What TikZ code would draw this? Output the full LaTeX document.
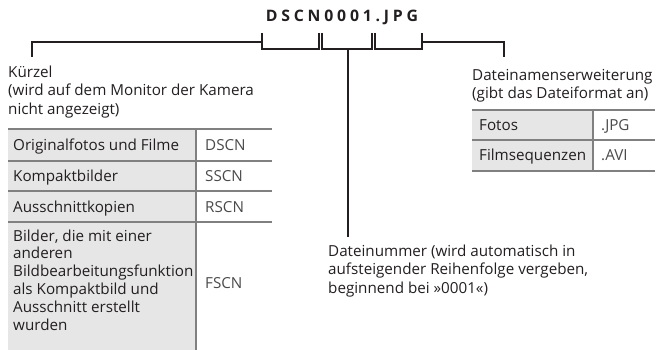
\documentclass[tikz,border=0pt]{standalone}
\usepackage{fontspec}
\setmainfont{Open Sans}
\definecolor{rulegray}{HTML}{808080}
\definecolor{cellgray}{HTML}{E6E6E6}
\definecolor{ink}{HTML}{231F20}
\definecolor{codeink}{HTML}{4A4A4A}
\begin{document}
\begin{tikzpicture}[x=1pt,y=-1pt,
  txt/.style={inner sep=0pt, anchor=base west, align=left, text=ink,
    font=\fontsize{15.2}{18.3}\selectfont},
  celltxt/.style={txt, font=\fontsize{15.2}{17.8}\selectfont},
  codetxt/.style={txt, text=codeink},
  br/.style={line width=2pt, draw=ink},
  tabrule/.style={line width=2.7pt, draw=rulegray},
  tabdiv/.style={line width=2.5pt, draw=rulegray}]
\useasboundingbox (0,0) rectangle (658,350);

% title
\node[inner sep=0pt, text=ink, font=\fontsize{15.8}{18}\selectfont\bfseries\addfontfeature{LetterSpace=24}] (title) at (342,17.5) {DSCN0001.JPG};

% bracket coordinates
\coordinate (kst) at (32,57);
\coordinate (kcorner) at (32,42);
\coordinate (b1a) at (262,33); \coordinate (b1b) at (262,49);
\coordinate (b1c) at (319,49); \coordinate (b1d) at (319,33);
\coordinate (b1m) at (262,42);
\coordinate (b2a) at (322,33); \coordinate (b2b) at (322,49);
\coordinate (b2c) at (372,49); \coordinate (b2d) at (372,33);
\coordinate (b2m) at (348,49);
\coordinate (nst) at (348,237);
\coordinate (b3a) at (375,33); \coordinate (b3b) at (375,49);
\coordinate (b3c) at (422,49); \coordinate (b3d) at (422,33);
\coordinate (b3m) at (422,42);
\coordinate (ecorner) at (504,42);
\coordinate (est) at (504,57);

\draw[br] (kst) -- (kcorner) -- (b1m);
\draw[br] (b1a) -- (b1b) -- (b1c) -- (b1d);
\draw[br] (b2a) -- (b2b) -- (b2c) -- (b2d);
\draw[br] (b2m) -- (nst);
\draw[br] (b3a) -- (b3b) -- (b3c) -- (b3d);
\draw[br] (b3m) -- (ecorner) -- (est);

% labels (base anchor = baseline of last line)
\node[txt] (kurzel) at (8,114) {Kürzel\\(wird auf dem Monitor der Kamera\\nicht angezeigt)};
\node[txt] (ext) at (472,99) {Dateinamenserweiterung\\(gibt das Dateiformat an)};
\node[txt] (num) at (328,293) {Dateinummer (wird automatisch in\\aufsteigender Reihenfolge vergeben,\\beginnend bei »0001«)};

% left table
\fill[cellgray] (8,129) rectangle (196,350);
\draw[tabdiv] (196,129) -- (196,350);
\draw[tabrule] (8,129) -- (272,129);
\draw[tabrule] (8,161) -- (272,161);
\draw[tabrule] (8,191) -- (272,191);
\draw[tabrule] (8,222) -- (272,222);
\node[celltxt] (l1) at (13,150.5) {Originalfotos und Filme};
\node[codetxt] (c1) at (205,150.5) {DSCN};
\node[celltxt] (l2) at (13,181.5) {Kompaktbilder};
\node[codetxt] (c2) at (205,181.5) {SSCN};
\node[celltxt] (l3) at (13,212) {Ausschnittkopien};
\node[codetxt] (c3) at (205,212) {RSCN};
\node[celltxt] (l4) at (13,330) {Bilder, die mit einer\\anderen\\Bildbearbeitungsfunktion\\als Kompaktbild und\\Ausschnitt erstellt\\wurden};
\node[codetxt] (c4) at (205,288) {FSCN};

% right table
\fill[cellgray] (472,110) rectangle (593,171);
\draw[tabdiv] (593,110) -- (593,171);
\draw[tabrule] (472,110) -- (655,110);
\draw[tabrule] (472,140) -- (655,140);
\draw[tabrule] (472,171) -- (655,171);
\node[celltxt] (r1) at (479,130.5) {Fotos};
\node[codetxt] (s1) at (601,130.5) {.JPG};
\node[celltxt] (r2) at (479,160.5) {Filmsequenzen};
\node[codetxt] (s2) at (601,160.5) {.AVI};
\end{tikzpicture}
\end{document}
